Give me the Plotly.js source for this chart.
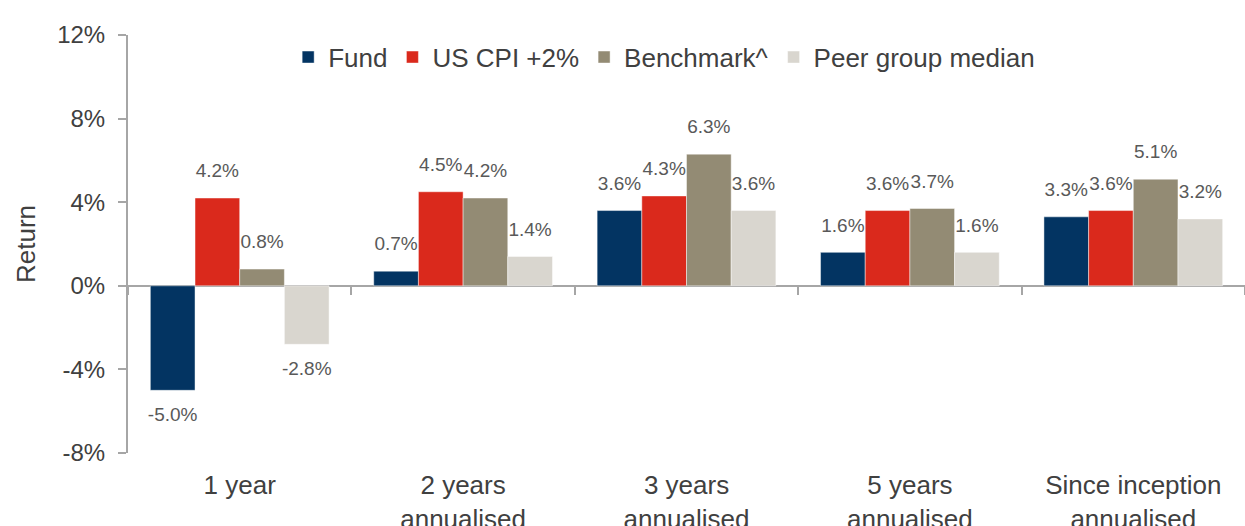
<!DOCTYPE html>
<html>
<head>
<meta charset="utf-8">
<script src="https://cdn.plot.ly/plotly-3.0.1.min.js"></script>
<style>html,body{margin:0;padding:0;background:#fff;overflow:hidden}</style>
</head>
<body>
<div id="chart" style="width:1245px;height:526px"></div>
<script>
const categories = ["1 year", "2 years<br>annualised", "3 years<br>annualised", "5 years<br>annualised", "Since inception<br>annualised"];
const seriesNames = ["Fund", "US CPI +2%", "Benchmark^", "Peer group median"];
const fund = [-5.0, 0.7, 3.6, 1.6, 3.3];
const cpi = [4.2, 4.5, 4.3, 3.6, 3.6];
const benchmark = [0.8, 4.2, 6.3, 3.7, 5.1];
const peer = [-2.8, 1.4, 3.6, 1.6, 3.2];
const yTicks = [-8, -4, 0, 4, 8, 12];

const colors = ["#033462", "#da291c", "#938b74", "#d9d6cf"];
const allSeries = [fund, cpi, benchmark, peer];

const traces = [];
allSeries.forEach((vals, i) => {
  traces.push({
    type: "bar", name: seriesNames[i], x: categories, y: vals,
    marker: {color: colors[i], line: {color: "rgba(255,255,255,0.45)", width: 1}},
    hoverinfo: "y"
  });
});
allSeries.forEach((vals, i) => {
  traces.push({
    type: "scatter", mode: "markers+text", x: categories, y: vals, showlegend: false,
    text: vals.map(v => v.toFixed(1) + "%"),
    textposition: vals.map(v => v < 0 ? "bottom center" : "top center"),
    textfont: {family: "Liberation Sans, Arial, sans-serif", size: 19, color: "#595959"},
    marker: {size: 24, color: "rgba(0,0,0,0)"},
    hoverinfo: "skip", cliponaxis: false
  });
});
// helper trace for category boundary ticks on the zero line
traces.push({
  type: "scatter", mode: "markers", x: categories, y: categories.map(() => 0),
  xaxis: "x2", yaxis: "y", showlegend: false, hoverinfo: "skip",
  marker: {size: 1, color: "rgba(0,0,0,0)"}
});

const layout = {
  width: 1245, height: 526,
  margin: {l: 128, r: 0, t: 35, b: 73},
  paper_bgcolor: "#fff", plot_bgcolor: "#fff",
  barmode: "group", bargap: 0.2, bargroupgap: 0,
  scattermode: "group", scattergap: 0.2,
  font: {family: "Liberation Sans, Arial, sans-serif", color: "#404040"},
  showlegend: true,
  legend: {
    orientation: "h", x: 0.48, xanchor: "center", y: 0.947, yanchor: "middle",
    font: {size: 26, color: "#404040"}, bgcolor: "rgba(0,0,0,0)", traceorder: "normal"
  },
  xaxis: {
    type: "category", categoryorder: "array", categoryarray: categories,
    range: [-0.5, 4.5], showgrid: false, zeroline: false, showline: false,
    ticks: "", ticklabelstandoff: 14,
    tickfont: {size: 26, color: "#404040"}, fixedrange: true
  },
  xaxis2: {
    type: "category", categoryorder: "array", categoryarray: categories,
    range: [-0.5, 4.5], overlaying: "x", anchor: "free", position: 0.4,
    showgrid: false, zeroline: false, showline: false, showticklabels: false,
    ticks: "outside", tickson: "boundaries", ticklen: 8, tickwidth: 2, tickcolor: "#a6a6a6",
    fixedrange: true
  },
  yaxis: {
    range: [-8, 12], tickmode: "array", tickvals: yTicks,
    ticktext: yTicks.map(v => v + "%"),
    showgrid: false, zeroline: true, zerolinecolor: "#a6a6a6", zerolinewidth: 2,
    showline: true, linecolor: "#a6a6a6", linewidth: 2,
    ticks: "outside", ticklen: 8, tickwidth: 2, tickcolor: "#a6a6a6",
    ticklabelstandoff: 8,
    tickfont: {size: 24, color: "#404040"},
    title: {text: "Return", font: {size: 26, color: "#404040"}, standoff: 14},
    fixedrange: true
  }
};

Plotly.newPlot("chart", traces, layout, {displayModeBar: false, staticPlot: true});
</script>
</body>
</html>
